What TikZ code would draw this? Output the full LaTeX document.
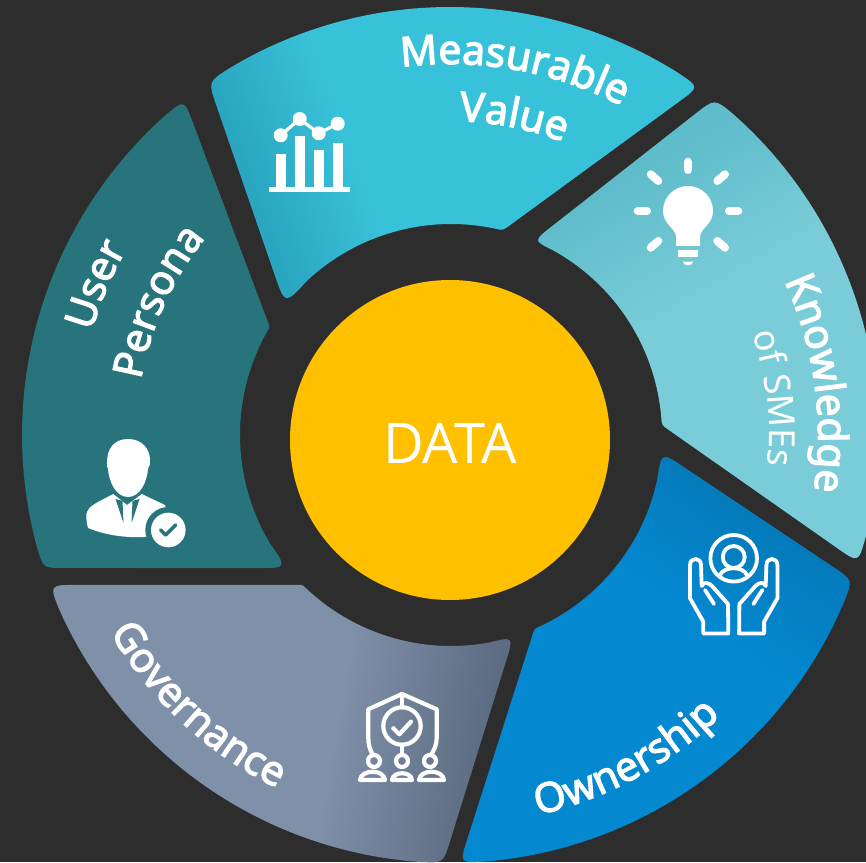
\documentclass[tikz,border=0pt]{standalone}
\usepackage{fontspec}
\setmainfont{Noto Sans}
\newfontfamily\semib{Noto Sans}[FakeBold=2.8]
\newfontfamily\datafont{Open Sans}
\usetikzlibrary{calc,decorations.text}
\definecolor{bgc}{HTML}{2D2D2D}
\definecolor{yel}{HTML}{FFC000}
\definecolor{teal}{HTML}{28747C}
\definecolor{mvA}{HTML}{2AA6C1}
\definecolor{mvB}{HTML}{38C2D9}
\definecolor{knA}{HTML}{5FBCCB}
\definecolor{knB}{HTML}{7ACDD8}
\definecolor{owA}{HTML}{0479B8}
\definecolor{owB}{HTML}{0488D0}
\definecolor{goA}{HTML}{7F90A9}
\definecolor{goB}{HTML}{5A697F}
\pgfdeclarehorizontalshading{mvshade}{100bp}{color(0bp)=(mvA);color(27bp)=(mvA);color(39bp)=(mvB);color(100bp)=(mvB)}
\pgfdeclareverticalshading{knshade}{100bp}{color(0bp)=(knB);color(54bp)=(knB);color(71bp)=(knA);color(100bp)=(knA)}
\pgfdeclareverticalshading{owshade}{100bp}{color(0bp)=(owB);color(57bp)=(owB);color(73bp)=(owA);color(100bp)=(owA)}
\pgfdeclarehorizontalshading{goshade}{100bp}{color(0bp)=(goA);color(56bp)=(goA);color(75bp)=(goB);color(100bp)=(goB)}
\newcommand\ringseg[9]{%
\begingroup
\pgfmathsetmacro\sa{#2+deg(#6/428)}%
\pgfmathsetmacro\sb{#3-deg(#7/428)}%
\pgfmathsetmacro\sc{#4-deg(#8/211)}%
\pgfmathsetmacro\sd{#5+deg(#9/211)}%
\coordinate (A) at ($(O)+(#2:428)$);
\coordinate (B) at ($(O)+(#3:428)$);
\coordinate (C) at ($(I)+(#4:211)$);
\coordinate (D) at ($(I)+(#5:211)$);
\path[#1] ($(O)+(\sa:428)$) arc[start angle=\sa,end angle=\sb,radius=428]
 .. controls (B) .. ($(B)!#7pt!(C)$) -- ($(C)!#8pt!(B)$)
 .. controls (C) .. ($(I)+(\sc:211)$) arc[start angle=\sc,end angle=\sd,radius=211]
 .. controls (D) .. ($(D)!#9pt!(A)$) -- ($(A)!#6pt!(D)$)
 .. controls (A) .. ($(O)+(\sa:428)$) -- cycle;
\endgroup}
\newcommand\arctext[5]{% font, radius, centre angle, direction(+1 cw,-1 ccw), text
\pgfmathsetmacro\ta{#3+#4*60}%
\pgfmathsetmacro\tb{#3-#4*60}%
\path[decorate,decoration={text along path,text align=center,text={|#1\color{white}|#5}}]
 ($(Q)+(\ta:#2)$) arc[start angle=\ta,end angle=\tb,radius=#2];}
\tikzset{
 iconline/.style={draw=white,line width=3.8pt,line cap=round,line join=round},
 govline/.style={draw=white,line width=4.2pt,line cap=round,line join=round},
 ray/.style={draw=white,line width=8pt,line cap=round},
}
\begin{document}
\begin{tikzpicture}[x=1pt,y=1pt]
\useasboundingbox (0,0) rectangle (866,862);
\clip (0,0) rectangle (866,862);
\fill[bgc] (0,0) rectangle (866,862);
\coordinate (Q) at (450,427);
\begin{scope}[shift={(0,862)},yscale=-1]
\coordinate (O) at (450,435);
\coordinate (I) at (451,435);
\ringseg{shade,shading=mvshade,shading angle=20}{235.6}{305.6}{284.2}{218.1}{24}{24}{8}{32}
\ringseg{shade,shading=knshade,shading angle=30}{308.2}{377.4}{357.3}{293.0}{24}{26}{8}{22}
\ringseg{shade,shading=owshade,shading angle=-35}{19.8}{88.7}{66.7}{4.6}{22}{24}{6}{28}
\ringseg{shade,shading=goshade,shading angle=-10}{90.9}{159.5}{134.7}{72.7}{22}{28}{4}{26}
\ringseg{fill=teal}{161.9}{231.6}{210.8}{140.9}{20}{24}{3}{30}
\fill[yel] (450,440) circle[radius=160];
% chart icon
\fill[white] (269,187.5) rectangle (350,192);
\fill[white] (276,154) rectangle (285.7,188);
\fill[white] (295.3,135.7) rectangle (305,188);
\fill[white] (314,150) rectangle (323.7,188);
\fill[white] (333.3,142.7) rectangle (342.7,188);
\draw[white,line width=3.2pt] (280.7,135.3) -- (299.7,119) -- (318.7,133.3) -- (337.7,123.7);
\foreach \p/\r in {280.7/135.3,299.7/119,318.7/133.3,337.7/123.7}{\fill[white] (\p,\r) circle[radius=7];}
% bulb
\foreach \a/\b/\c/\d in {688/161.7/688/170,729/211/738.3/211,637.7/211/647/211,650.7/174.3/658.3/181,725/174.3/717.3/181,650.7/247.7/658.3/241,725/247.7/717.3/241}{\draw[ray] (\a,\b) -- (\c,\d);}
\fill[white] (676,246) -- (676,236) .. controls (675,228) and (663,224) .. (663,211) arc[start angle=180,end angle=360,radius=25] .. controls (713,224) and (701,228) .. (700,236) -- (700,246) -- cycle;
\fill[white] (678.3,250) rectangle (697.7,257.3);
\fill[white] (682.7,261.7) -- (693.3,261.7) .. controls (692,266.5) and (684,266.5) .. (682.7,261.7) -- cycle;
% hands
\draw[iconline] (733.7,558.3) circle[radius=23.3];
\draw[iconline] (733.7,557) circle[radius=11];
\draw[iconline] (720,575) .. controls (724,566) and (743,566) .. (747,575);
\foreach \s/\c in {1/733.7,-1/733.7}{
\begin{scope}[shift={(\c,0)},xscale=\s,shift={(-\c,0)}]
\draw[iconline] (703.3,633.5) -- (703.3,621.7) -- (690,598.3) -- (690,565) .. controls (690,557) and (701,557) .. (701,565) -- (701.7,586)
 .. controls (704,581) and (709,583) .. (712,586) -- (728,604) -- (728.3,633.5) -- cycle;
\draw[iconline] (705,590) -- (714,604);
\end{scope}}
% governance icon
\draw[govline] (373,755) .. controls (370,750) and (368.3,745) .. (368.3,738) -- (368.3,709.3) -- (402,694) -- (436.7,709.3) -- (436.7,738) .. controls (436.7,745) and (434,750) .. (431,755);
\draw[govline] (402,694) -- (402,707);
\draw[govline] (402,745) -- (402,754);
\draw[govline] (402,726) circle[radius=18.7];
\draw[govline] (393.3,728.3) -- (399.3,734.3) -- (411,721.7);
\foreach \x in {374,402,430}{
\draw[govline] (\x,761) circle[radius=6];}
\draw[govline] (360,780) .. controls (361,769) and (384,769) .. (385,780) -- cycle;
\draw[govline] (392,780) .. controls (393,771) and (411,771) .. (412,780) -- cycle;
\draw[govline] (419,780) .. controls (420,769) and (443,769) .. (444,780) -- cycle;
% person icon
\fill[white] (128,439) .. controls (114,439) and (107,449) .. (107,462) .. controls (107,466) and (107,468) .. (108,469)
 .. controls (109,482) and (116,497) .. (128,497) .. controls (140,497) and (147,482) .. (148,469) .. controls (150,466) and (150,463) .. (150,460) .. controls (150,449) and (142,439) .. (128,439) -- cycle;
\fill[white] (113.3,494) -- (127,505) -- (141.7,494) -- (165,505) -- (170,530) -- (145,537) .. controls (125,538) and (105,535) .. (88,528) .. controls (86,520) and (86,515) .. (87,512) .. controls (89,506) and (96,503) .. (113.3,494) -- cycle;
\fill[teal] (115.5,499) -- (122.5,501) -- (123.5,523) -- cycle;
\fill[teal] (139.5,499) -- (132.5,501) -- (131.5,523) -- cycle;
\fill[teal] (168.3,530) circle[radius=23];
\fill[white] (168.3,530) circle[radius=17.3];
\draw[teal,line width=3.6pt,line cap=round,line join=round] (160.7,530) -- (165.7,535) -- (175.7,525);
\end{scope}
\arctext{\semib\fontsize{41}{50}\selectfont}{371}{80}{1}{Measurable}
\arctext{\semib\fontsize{41}{50}\selectfont}{314}{78.6}{1}{Value}
\arctext{\semib\fontsize{41}{50}\selectfont}{368}{8}{1}{Knowledge}
\arctext{\fontsize{36}{40}\selectfont}{319}{6.5}{1}{of SMEs}
\arctext{\semib\fontsize{41}{50}\selectfont}{390}{-61.5}{-1}{Ownership}
\arctext{\semib\fontsize{41}{50}\selectfont}{393}{-133}{-1}{Governance}
\arctext{\semib\fontsize{41}{50}\selectfont}{373}{157}{1}{User}
\arctext{\semib\fontsize{41}{50}\selectfont}{314}{155.5}{1}{Persona}
\node[text=white,font=\datafont\fontsize{56}{60}\selectfont] (data) at (450,419) {DATA};
\end{tikzpicture}
\end{document}
